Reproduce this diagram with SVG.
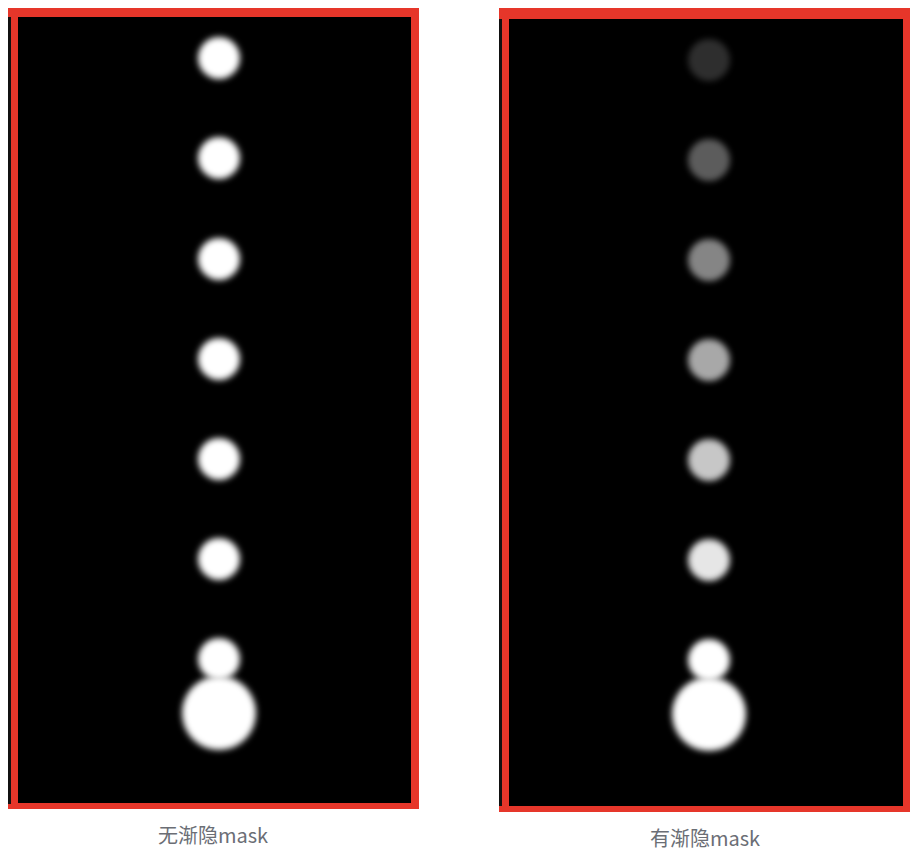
<svg xmlns="http://www.w3.org/2000/svg" width="921" height="855" viewBox="0 0 921 855">
<style>
.frame{fill:#e6362a}
.inner{fill:#000}
.strip{fill:#111}
.dot{fill:#fff;filter:url(#blur)}
.cap{font-family:"Noto Sans CJK SC","Noto Sans",sans-serif;font-size:20px;fill:#6b6e75;text-anchor:middle}
</style>
<defs>
<filter id="blur" x="-50%" y="-50%" width="200%" height="200%"><feGaussianBlur stdDeviation="3.2"/></filter>
</defs>
<rect width="921" height="855" fill="#fff"/>
<g id="panel-left">
<rect class="frame" x="8" y="8" width="411" height="801"/>
<rect class="strip" x="8" y="17" width="3" height="787"/>
<rect class="inner" x="18" y="17" width="393" height="786"/>
<g id="dots-left">
<circle class="dot" cx="219" cy="58" r="21"/>
<circle class="dot" cx="219" cy="158" r="21"/>
<circle class="dot" cx="219" cy="259" r="21"/>
<circle class="dot" cx="219" cy="359" r="21"/>
<circle class="dot" cx="219" cy="459" r="21"/>
<circle class="dot" cx="219" cy="559" r="21"/>
<circle class="dot" cx="219" cy="659" r="21"/>
<circle class="dot" cx="219" cy="713" r="37"/>
</g>
<text class="cap" x="213" y="843">无渐隐mask</text>
</g>
<g id="panel-right">
<rect class="frame" x="499" y="8" width="411" height="804"/>
<rect class="strip" x="499" y="19" width="3" height="787"/>
<rect class="inner" x="509" y="19" width="394" height="787"/>
<g id="dots-right">
<circle class="dot" cx="709" cy="60" r="21" opacity="0.18"/>
<circle class="dot" cx="709" cy="160" r="21" opacity="0.36"/>
<circle class="dot" cx="709" cy="260" r="21" opacity="0.52"/>
<circle class="dot" cx="709" cy="360" r="21" opacity="0.66"/>
<circle class="dot" cx="709" cy="460" r="21" opacity="0.78"/>
<circle class="dot" cx="709" cy="560" r="21" opacity="0.9"/>
<circle class="dot" cx="709" cy="660" r="21"/>
<circle class="dot" cx="709" cy="714" r="37"/>
</g>
<text class="cap" x="705" y="846">有渐隐mask</text>
</g>
</svg>
